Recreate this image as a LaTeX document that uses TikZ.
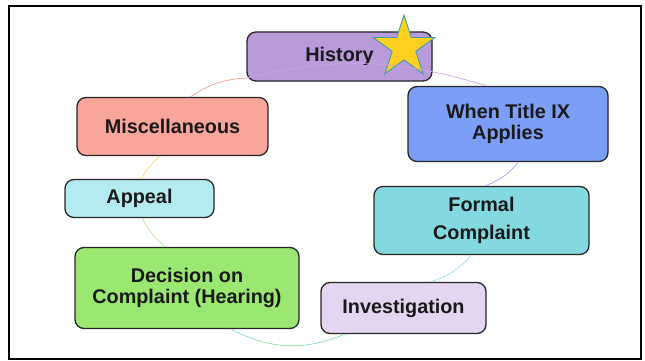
\documentclass[tikz,border=0pt]{standalone}
\usepackage{fontspec}
\setmainfont{Liberation Sans}
\usetikzlibrary{shapes.geometric,calc}

\definecolor{histfill}{HTML}{B99BDA}
\definecolor{whenfill}{HTML}{7B9EF7}
\definecolor{formfill}{HTML}{84D8E0}
\definecolor{invfill}{HTML}{E4D5F0}
\definecolor{decfill}{HTML}{9AE872}
\definecolor{appfill}{HTML}{B4EBF0}
\definecolor{miscfill}{HTML}{F8A59B}
\definecolor{stargold}{HTML}{FDD01F}
\definecolor{starrim}{HTML}{3A9EAE}
\definecolor{ringpurple}{HTML}{C9A5E3}
\definecolor{ringblue}{HTML}{98A6F0}
\definecolor{ringcyan}{HTML}{9EE0EA}
\definecolor{ringteal}{HTML}{80E6A6}
\definecolor{ringgreen}{HTML}{B0E890}
\definecolor{ringyellow}{HTML}{EEDF6A}
\definecolor{ringsalmon}{HTML}{F2A08E}

\begin{document}
\begin{tikzpicture}[x=1pt,y=-1pt,
    topic/.style={draw=black!85,line width=1.3pt,rounded corners=9pt,align=center,
      font=\fontsize{19.8}{21.5}\selectfont\bfseries,text=black!90,inner sep=0pt},
    ring/.style={line width=0.7pt}]
  \useasboundingbox (0,0) rectangle (645,361);
  \draw[line width=2.4pt] (9,6) rectangle (641,359);

  \begin{scope}
    % the seven topics
    \node[topic,fill=histfill,minimum width=185pt,minimum height=49pt] (hist) at (339.5,56.5) {History};
    \node[topic,fill=whenfill,minimum width=200pt,minimum height=75pt] (when) at (508,124) {When Title IX\\Applies};
    \node[topic,fill=formfill,minimum width=215pt,minimum height=68pt] (form) at (481.5,220.5) {Formal\\[7pt]Complaint};
    \node[topic,fill=invfill,minimum width=165pt,minimum height=51pt] (inv) at (403.5,308) {Investigation};
    \node[topic,fill=decfill,minimum width=224pt,minimum height=81pt] (dec) at (187,288) {Decision on\\Complaint (Hearing)};
    \node[topic,fill=appfill,minimum width=149pt,minimum height=38pt] (app) at (139.5,198.5) {Appeal};
    \node[topic,fill=miscfill,minimum width=191pt,minimum height=58pt] (misc) at (172.5,126.5) {Miscellaneous};

    \node[star,star points=5,star point ratio=2.618,minimum size=65pt,inner sep=0pt,
      fill=stargold,draw=starrim,line width=0.9pt] (goldstar) at (404,47.5) {};

    % the ring between them
    \foreach \a/\b/\c/\d in {hist.-167/when.119/ringpurple/15,
                             when.-75/form.84/ringblue/15,
                             form.-106/inv.44/ringcyan/15,
                             inv.-156/dec.-43/ringteal/25,
                             dec.118/app.-82/ringgreen/10,
                             app.85/misc.-113/ringyellow/10,
                             misc.59/hist.193/ringsalmon/15}
      \draw[ring,\c] (\a) to[bend left=\d] (\b);
  \end{scope}
\end{tikzpicture}
\end{document}
